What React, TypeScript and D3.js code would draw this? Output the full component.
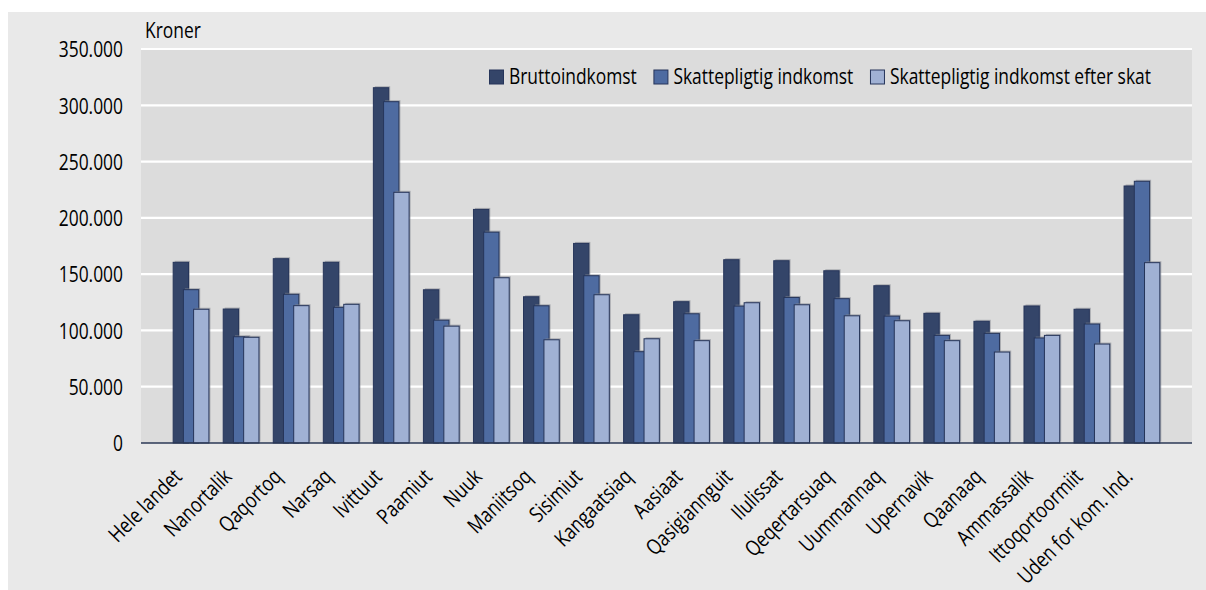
// Externals
import * as d3 from 'd3'
import { FC, useMemo } from 'react'



const WIDTH = 1206
const HEIGHT = 590
const PLOT = { left: 141, right: 1192, top: 49, bottom: 443 }
const FONT = "'Open Sans', 'Liberation Sans', sans-serif"
const FONT_SIZE = 21.5
// the original uses a condensed face, so text is squeezed sideways
const SX = 0.81



const categories = [
  'Hele landet', 'Nanortalik', 'Qaqortoq', 'Narsaq', 'Ivittuut', 'Paamiut',
  'Nuuk', 'Maniitsoq', 'Sisimiut', 'Kangaatsiaq', 'Aasiaat', 'Qasigiannguit',
  'Ilulissat', 'Qeqertarsuaq', 'Uummannaq', 'Upernavik', 'Qaanaaq',
  'Ammassalik', 'Ittoqortoormiit', 'Uden for kom. Ind.',
]
const brutto = [
  160500, 119000, 163700, 160500, 315600, 136100, 207500, 129900, 177300, 113900,
  125500, 162800, 161900, 153000, 139700, 115200, 108100, 121700, 118800, 228300,
]
const skattepligtig = [
  136200, 94400, 132100, 120500, 303200, 109100, 187300, 121900, 148600, 81100,
  114800, 121600, 129300, 128200, 112700, 95600, 97400, 93300, 105700, 232500,
]
const efterSkat = [
  118800, 93900, 122000, 123200, 222700, 103800, 146800, 91700, 131700, 92600,
  90900, 124600, 122800, 113000, 108600, 90900, 80800, 95600, 87900, 160200,
]
const seriesNames = [
  'Bruttoindkomst',
  'Skattepligtig indkomst',
  'Skattepligtig indkomst efter skat',
]
const seriesColors = ['#344569', '#4e6ba1', '#a0b1d4']
const yTicks = [0, 50000, 100000, 150000, 200000, 250000, 300000, 350000]
const yUnit = 'Kroner'



const formatDK = d3.formatLocale({
  decimal: ',',
  thousands: '.',
  grouping: [3],
  currency: ['', ' kr.'],
}).format(',')


const measure = (() => {
  const ctx = document.createElement('canvas').getContext('2d')
  return (txt: string) => {
    if (!ctx) return txt.length * FONT_SIZE * 0.5
    ctx.font = `${FONT_SIZE}px ${FONT}`
    return ctx.measureText(txt).width
  }
})()



const App: FC = () => {
  const series = [brutto, skattepligtig, efterSkat]

  const xScale = useMemo(() => {
    return d3
      .scaleBand()
      .domain(categories)
      .range([PLOT.left, PLOT.right])
      .paddingInner(0)
      .paddingOuter(0.5)
  }, [])

  const yScale = useMemo(() => {
    return d3.scaleLinear().domain([0, 350000]).range([PLOT.bottom, PLOT.top])
  }, [])

  const bw = xScale.bandwidth()
  const barW = bw * 0.306
  const barStep = barW * 0.667
  const groupW = barW + barStep * (series.length - 1)

  const bars = categories.map((cat, ci) => {
    const x0 = (xScale(cat) as number) + (bw - groupW) / 2
    return (
      <g key={ cat }>
        { series.map((vals, si) => {
          const x = x0 + si * barStep
          const y = yScale(vals[ci])
          const h = yScale(0) - y
          return (
            <g key={ si }>
              <rect
                x={ x + 1.5 }
                y={ y - 1.5 }
                width={ barW }
                height={ h }
                fill='#7f838c'
                opacity={ 0.55 }
              />
              <rect
                x={ x }
                y={ y }
                width={ barW }
                height={ h }
                fill={ seriesColors[si] }
                stroke='#26355a'
                strokeWidth={ 1 }
              />
            </g>
          )
        }) }
      </g>
    )
  })

  // legend laid out left to right from the measured text widths
  let lx = 489.5
  const legend = seriesNames.map((name, i) => {
    const sqX = lx
    const textX = sqX + 19.5
    lx = textX + measure(name) * SX + 17
    return (
      <g key={ name }>
        <rect
          x={ sqX }
          y={ 70 }
          width={ 14 }
          height={ 14 }
          fill={ seriesColors[i] }
          stroke='#26355a'
          strokeWidth={ 1 }
        />
        <text
          transform={ `translate(${textX},84) scale(${SX},1)` }
          fontSize={ FONT_SIZE }
          fill='#000'
        >
          { name }
        </text>
      </g>
    )
  })


  return (
    <svg
      width={ WIDTH }
      height={ HEIGHT }
      style={ { position: 'absolute', left: 0, top: 0 } }
      fontFamily={ FONT }
    >
      <rect x={ 8 } y={ 12 } width={ WIDTH - 8 } height={ HEIGHT - 12 } fill='#e9e9e9' />
      <rect
        x={ PLOT.left }
        y={ PLOT.top }
        width={ PLOT.right - PLOT.left }
        height={ PLOT.bottom - PLOT.top }
        fill='#dcdcdc'
      />

      { yTicks.filter((t) => t > 0).map((t) => (
        <line
          key={ t }
          x1={ PLOT.left }
          x2={ PLOT.right }
          y1={ yScale(t) }
          y2={ yScale(t) }
          stroke='#ffffff'
          strokeWidth={ 2.2 }
        />
      )) }

      { bars }

      <line
        x1={ PLOT.left }
        x2={ PLOT.right }
        y1={ yScale(0) }
        y2={ yScale(0) }
        stroke='#2b3856'
        strokeWidth={ 1.5 }
      />

      { yTicks.map((t) => (
        <text
          key={ t }
          transform={ `translate(123,${yScale(t)}) scale(${SX},1)` }
          textAnchor='end'
          dominantBaseline='central'
          fontSize={ FONT_SIZE }
          fill='#000'
        >
          { formatDK(t) }
        </text>
      )) }

      <text
        transform={ `translate(145,38) scale(${SX},1)` }
        fontSize={ FONT_SIZE }
        fill='#000'
      >
        { yUnit }
      </text>

      { categories.map((cat) => {
        const cx = (xScale(cat) as number) + bw / 2
        return (
          <text
            key={ cat }
            transform={ `translate(${cx - 8},478) rotate(-45) scale(${SX},1)` }
            textAnchor='end'
            fontSize={ FONT_SIZE }
            fill='#000'
          >
            { cat }
          </text>
        )
      }) }

      { legend }
    </svg>
  )
}


export default App
